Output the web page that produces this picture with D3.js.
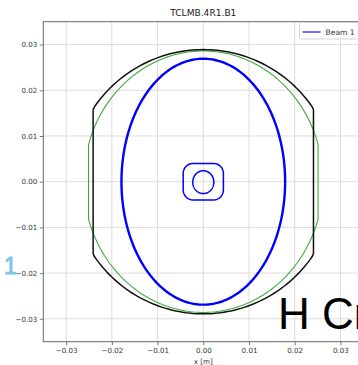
<!DOCTYPE html>
<html><head><meta charset="utf-8">
<script src="https://cdn.jsdelivr.net/npm/d3@7"></script>
<style>html,body{margin:0;padding:0;background:#fff;overflow:hidden}</style>
</head><body>
<svg id="c" width="358" height="365"></svg>
<script>
// ---- data ----
const title = "TCLMB.4R1.B1";
const xLabel = "x [m]";
const xTicks = [-0.03, -0.02, -0.01, 0.00, 0.01, 0.02, 0.03];
const yTicks = [-0.03, -0.02, -0.01, 0.00, 0.01, 0.02, 0.03];
const axisRange = [-0.035, 0.035];
// aperture (black): [rect half-width, ellipse a, ellipse b]
const apertureBlack = [0.0241, 0.0289, 0.0289];
// tolerance aperture (green): [rect half-width, ellipse a, ellipse b]
const apertureGreen = [0.0251, 0.0262, 0.0286];
// beam 1 envelope (large ellipse): [center x, center y, a, b]
const beamEnvelope = [0.0, 0.0, 0.0179, 0.0269];
// beam 1 core (small rounded rectangle): [center x, center y, half-w, half-h, corner r]
const beamCoreRect = [0.0, 0.0, 0.0044, 0.0040, 0.0022];
// beam 1 core (small ellipse): [center x, center y, a, b]
const beamCoreEllipse = [0.0, -0.0001, 0.0023, 0.0025];
const legendLabels = ["Beam 1"];

// ---- layout ----
const svg = d3.select("#c");
const L = 43.3, T = 21.7, S = 320;
const x = d3.scaleLinear().domain(axisRange).range([L, L + S]);
const y = d3.scaleLinear().domain(axisRange).range([T + S, T]);
const FONT = "DejaVu Sans, sans-serif";

// grid
const g = svg.append("g");
g.selectAll(".gx").data(xTicks).enter().append("line")
  .attr("x1", d => x(d)).attr("x2", d => x(d)).attr("y1", T).attr("y2", T + S)
  .attr("stroke", "#dcdcdc").attr("stroke-width", 1);
g.selectAll(".gy").data(yTicks).enter().append("line")
  .attr("y1", d => y(d)).attr("y2", d => y(d)).attr("x1", L).attr("x2", L + S)
  .attr("stroke", "#dcdcdc").attr("stroke-width", 1);

// axes
const xAxis = d3.axisBottom(x).tickValues(xTicks).tickSize(3.5).tickPadding(2.5)
  .tickFormat(d => d3.format(".2f")(d).replace("-", "\u2212"));
const yAxis = d3.axisLeft(y).tickValues(yTicks).tickSize(3.5).tickPadding(2.5)
  .tickFormat(d => d3.format(".2f")(d).replace("-", "\u2212"));
const ax = svg.append("g").attr("transform", `translate(0,${T + S})`).call(xAxis);
const ay = svg.append("g").attr("transform", `translate(${L},0)`).call(yAxis);
[ax, ay].forEach(a => {
  a.select(".domain").remove();
  a.selectAll(".tick line").attr("stroke", "#555").attr("stroke-width", 0.8);
  a.selectAll(".tick text").attr("font-family", FONT).attr("font-size", 7.1).attr("fill", "#333");
});
// frame
svg.append("rect").attr("x", L).attr("y", T).attr("width", S).attr("height", S)
  .attr("fill", "none").attr("stroke", "#666").attr("stroke-width", 1);

// shapes
const line = d3.line().x(d => x(d[0])).y(d => y(d[1]));
const N = 240;
const angles = d3.range(N + 1).map(i => 2 * Math.PI * i / N);
function rectEllipse(p) {
  const [rh, a, b] = p;
  return angles.map(t => {
    let px = a * Math.cos(t), py = b * Math.sin(t);
    px = Math.max(-rh, Math.min(rh, px));
    return [px, py];
  });
}
function ellipse(p) {
  const [cx, cy, a, b] = p;
  return angles.map(t => [cx + a * Math.cos(t), cy + b * Math.sin(t)]);
}
function roundRect(p) {
  const [cx, cy, hw, hh, r] = p;
  const pts = [];
  const corners = [[hw - r, hh - r, 0], [-(hw - r), hh - r, 1], [-(hw - r), -(hh - r), 2], [hw - r, -(hh - r), 3]];
  corners.forEach(([ox, oy, q]) => {
    for (let i = 0; i <= 15; i++) {
      const t = (q + i / 15) * Math.PI / 2;
      pts.push([cx + ox + r * Math.cos(t), cy + oy + r * Math.sin(t)]);
    }
  });
  pts.push(pts[0]);
  return pts;
}
const plot = svg.append("g");
plot.append("path").attr("d", line(rectEllipse(apertureGreen)))
  .attr("fill", "none").attr("stroke", "#2ca02c").attr("stroke-width", 1.1).attr("stroke-opacity", 0.9);
plot.append("path").attr("d", line(rectEllipse(apertureBlack)))
  .attr("fill", "none").attr("stroke", "#111").attr("stroke-width", 1.5);
plot.append("path").attr("d", line(ellipse(beamEnvelope)))
  .attr("fill", "none").attr("stroke", "#0000ff").attr("stroke-width", 2.4);
plot.append("path").attr("d", line(roundRect(beamCoreRect)))
  .attr("fill", "none").attr("stroke", "#0000ff").attr("stroke-width", 1.5);
plot.append("path").attr("d", line(ellipse(beamCoreEllipse)))
  .attr("fill", "none").attr("stroke", "#0000ff").attr("stroke-width", 1.5);

// title & label
svg.append("text").attr("x", x(0)).attr("y", 16).attr("text-anchor", "middle")
  .attr("font-family", FONT).attr("font-size", 9.1).attr("fill", "#222").text(title);
svg.append("text").attr("x", x(0)).attr("y", 363.5).attr("text-anchor", "middle")
  .attr("font-family", FONT).attr("font-size", 7.1).attr("fill", "#333").text(xLabel);

// legend
const lg = svg.append("g");
lg.append("rect").attr("x", 299.5).attr("y", 22.5).attr("width", 60).attr("height", 16.5)
  .attr("rx", 2).attr("fill", "#fff").attr("fill-opacity", 0.85).attr("stroke", "#ccc").attr("stroke-width", 0.8);
lg.append("line").attr("x1", 302.5).attr("x2", 320.5).attr("y1", 32).attr("y2", 32)
  .attr("stroke", "#0000ff").attr("stroke-opacity", 0.7).attr("stroke-width", 1.6);
lg.append("text").attr("x", 325.5).attr("y", 34.6).attr("font-family", FONT).attr("font-size", 7.6)
  .attr("fill", "#333").text(legendLabels[0]);

// overlay texts
svg.append("text").attr("x", 4).attr("y", 273.5).attr("font-family", "Liberation Sans, Arial, sans-serif")
  .attr("font-size", 23).attr("fill", "#7cc4e4").attr("stroke", "#7cc4e4").attr("stroke-width", 0.8).text("1");
svg.append("text").attr("x", 278).attr("y", 328.5).attr("font-family", "Liberation Sans, Arial, sans-serif")
  .attr("font-size", 44).attr("fill", "#000").text("H Cr");
</script>
</body></html>
